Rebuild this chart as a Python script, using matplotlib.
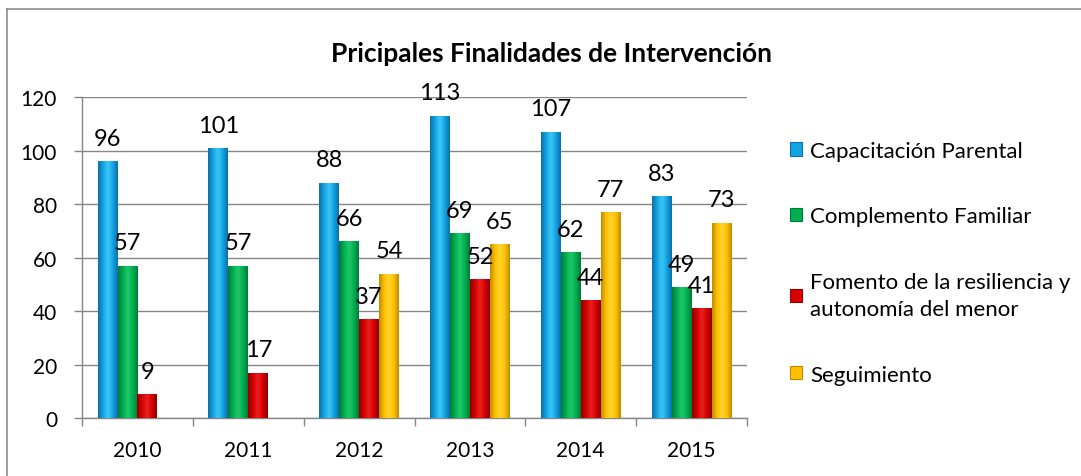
import matplotlib
matplotlib.use("Agg")
import matplotlib.pyplot as plt
import numpy as np
from matplotlib.patches import Patch
from matplotlib.colors import LinearSegmentedColormap

plt.rcParams['font.family'] = ['Lato', 'DejaVu Sans']

years = ['2010', '2011', '2012', '2013', '2014', '2015']
series_names = ['Capacitación Parental', 'Complemento Familiar',
                'Fomento de la resiliencia y\nautonomía del menor', 'Seguimiento']
capacitacion = [96, 101, 88, 113, 107, 83]
complemento = [57, 57, 66, 69, 62, 49]
fomento = [9, 17, 37, 52, 44, 41]
seguimiento = [0, 0, 54, 65, 77, 73]
title = 'Pricipales Finalidades de Intervención'

series = [capacitacion, complemento, fomento, seguimiento]
base_colors = ['#14A3E3', '#00B050', '#D40000', '#FFC000']
edge_dark = ['#0A6FA8', '#007A3A', '#8E0000', '#C08A00']
light = ['#3CC8F5', '#22C86A', '#EE2020', '#FFD430']

fig = plt.figure(figsize=(10.81, 4.77), dpi=100)
ax = fig.add_axes([0.0759, 0.1216, 0.6151, 0.6729])

x = np.arange(len(years))
w = 0.18
for j, vals in enumerate(series):
    pos = x + (j - 1.5) * w
    bars = ax.bar(pos, vals, width=w, color=base_colors[j], edgecolor='none', zorder=3)
    cmap = LinearSegmentedColormap.from_list('g', [edge_dark[j], base_colors[j], light[j], base_colors[j], edge_dark[j]])
    grad = np.linspace(0, 1, 64).reshape(1, -1)
    for b, v, p in zip(bars, vals, pos):
        if v <= 0:
            continue
        im = ax.imshow(grad, cmap=cmap, aspect='auto', extent=[p - w / 2, p + w / 2, 0, v],
                       zorder=3.5, interpolation='bicubic')
        im.set_clip_path(b)
        ax.text(p, v + 4.6, str(v), ha='center', va='bottom', fontsize=17, color='black', zorder=5)

ax.set_xlim(-0.5, 5.5)
ax.set_ylim(0, 120)
ax.set_yticks(np.arange(0, 121, 20))
ax.set_xticks(x)
ax.set_xticklabels(years)
ax.set_xticks(np.arange(-0.5, 6, 1), minor=True)
ax.tick_params(axis='x', which='major', length=0, pad=16, labelsize=15)
ax.tick_params(axis='x', which='minor', length=6, color='#868686', width=1)
ax.tick_params(axis='y', length=6, color='#868686', width=1, labelsize=15, pad=12)
ax.grid(axis='y', color='#868686', linewidth=1, zorder=0)
ax.set_axisbelow(True)
for s in ['top', 'right']:
    ax.spines[s].set_visible(False)
for s in ['left', 'bottom']:
    ax.spines[s].set_color('#868686')
    ax.spines[s].set_linewidth(1)

fig.text(0.51, 0.870, title, ha='center', va='baseline', fontsize=19, fontweight='bold')

handles = [Patch(facecolor=c, edgecolor=e, linewidth=0.8) for c, e in zip(base_colors, edge_dark)]
leg = fig.legend(handles, series_names, loc='upper left', bbox_to_anchor=(0.731, 0.703),
                 frameon=False, fontsize=16, handlelength=0.55, handleheight=0.55,
                 handletextpad=0.35, labelspacing=2.05, borderpad=0, borderaxespad=0)
for t in leg.get_texts():
    t.set_linespacing(1.45)

# outer border (top and left visible)
fig.add_artist(plt.Line2D([0.0065, 0.0065], [0.0, 0.979], color='#8c8c8c', linewidth=1.2,
                          transform=fig.transFigure))
fig.add_artist(plt.Line2D([0.0065, 1.0], [0.979, 0.979], color='#8c8c8c', linewidth=1.2,
                          transform=fig.transFigure))

fig.savefig('out.png', dpi=100)
